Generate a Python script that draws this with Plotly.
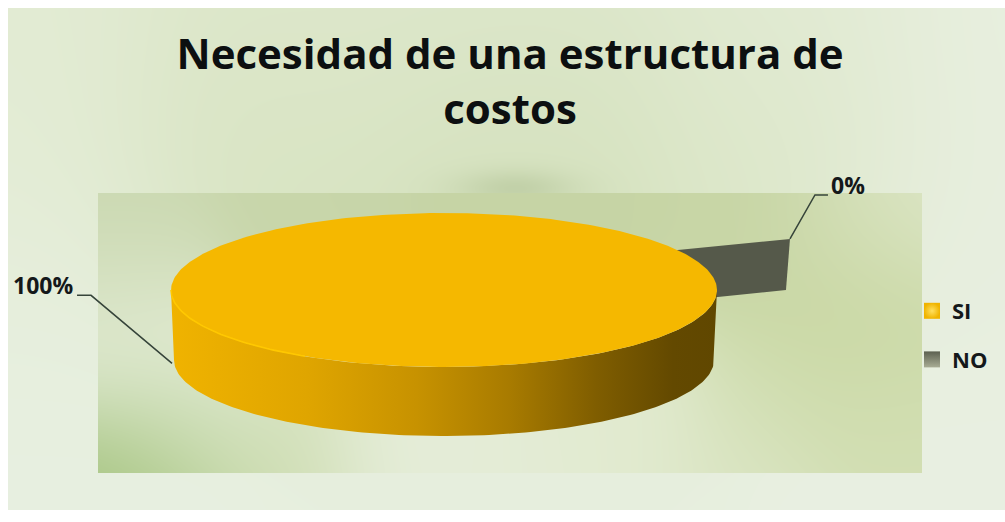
import base64, struct, zlib
import numpy as np
import plotly.graph_objects as go

# ---- data ----
categories = ["SI", "NO"]
values = [100, 0]
title_text = "Necesidad de una estructura de<br>costos"

# ---- colours / geometry ----
W, H = 1005, 522
SI_TOP = "#f5b800"
NO_COL = "#55594a"
LEAD = "#36443a"
TXT = "#14181a"
FONT = "Open Sans"
CX, CY, RX, RY = 444, 290, 273, 77
BCX, BCY, BRX, BRY = 444, 360, 270, 76
NO_ANGLE = np.radians(27.6)
NO_REACH = 1.43


def blend(points, xx, yy, sigma):
    w = []
    c = []
    for px, py, col in points:
        w.append(np.exp(-((xx - px) ** 2 + (yy - py) ** 2) / (2 * sigma ** 2)) + 1e-9)
        c.append(col)
    w = np.stack(w, -1)
    c = np.array(c, dtype=float)
    return (w[..., None] * c).sum(-2) / w.sum(-1, keepdims=True)


def background_png():
    yy, xx = np.mgrid[0:H, 0:W].astype(float)
    frame_pts = [
        (20, 20, (226, 235, 211)), (300, 20, (222, 232, 204)), (520, 20, (222, 232, 205)),
        (800, 20, (226, 235, 212)), (990, 30, (233, 240, 224)),
        (20, 150, (228, 237, 214)), (250, 150, (216, 228, 194)), (520, 150, (212, 225, 188)),
        (780, 150, (220, 231, 200)), (990, 170, (232, 239, 223)),
        (30, 320, (231, 239, 222)), (975, 320, (232, 239, 224)),
        (30, 495, (232, 240, 225)), (500, 495, (231, 239, 222)), (980, 495, (233, 240, 226)),
    ]
    panel_pts = [
        (110, 205, (202, 216, 176)), (300, 200, (200, 214, 170)), (520, 197, (198, 212, 165)),
        (750, 200, (200, 214, 166)), (870, 205, (208, 220, 178)), (918, 205, (226, 235, 208)),
        (110, 290, (214, 226, 194)), (850, 300, (201, 215, 162)), (915, 320, (205, 219, 170)),
        (115, 370, (230, 238, 218)), (200, 410, (230, 238, 218)), (400, 450, (230, 238, 218)),
        (620, 445, (226, 235, 208)), (800, 400, (206, 220, 172)), (910, 420, (208, 221, 175)),
        (105, 470, (158, 191, 118)), (170, 470, (174, 202, 138)), (280, 470, (208, 222, 180)),
        (500, 470, (228, 236, 214)), (750, 470, (220, 230, 198)), (915, 470, (212, 224, 182)),
    ]
    img = blend(frame_pts, xx, yy, 100)
    # soft shadow just above the plot panel
    shade = np.exp(-((xx - 515) ** 2) / (2 * 42 ** 2) - ((yy - 188) ** 2) / (2 * 13 ** 2))[..., None]
    img = img * (1 - shade * 0.55) + np.array([178, 195, 150.0]) * shade * 0.55
    panel = blend(panel_pts, xx, yy, 60)
    mask = (xx >= 98) & (xx < 922) & (yy >= 193) & (yy < 473)
    img[mask] = panel[mask]
    outside = (xx < 8) | (yy < 8) | (yy >= 510)
    img[outside] = 255
    arr = np.clip(img, 0, 255).astype(np.uint8)
    raw = b"".join(b"\x00" + arr[r].tobytes() for r in range(H))

    def chunk(tag, d):
        return struct.pack(">I", len(d)) + tag + d + struct.pack(">I", zlib.crc32(tag + d))

    png = (b"\x89PNG\r\n\x1a\n" + chunk(b"IHDR", struct.pack(">IIBBBBB", W, H, 8, 2, 0, 0, 0))
           + chunk(b"IDAT", zlib.compress(raw, 6)) + chunk(b"IEND", b""))
    return "data:image/png;base64," + base64.b64encode(png).decode()


def rim(t, cx=CX, cy=CY, rx=RX, ry=RY):
    return cx + rx * np.cos(t), cy - ry * np.sin(t)


total = sum(values)
fractions = [v / total for v in values]
si_sweep = 2 * np.pi * fractions[0]

fig = go.Figure()

# NO slice: a zero-angle slice, only its radial wall is seen
tip_x, tip_y = rim(NO_ANGLE, rx=RX * NO_REACH, ry=RY * NO_REACH)
fig.add_trace(go.Scatter(
    x=[CX, tip_x, tip_x - 4, CX], y=[CY - 17, tip_y, tip_y + 51, CY + 35],
    mode="lines", fill="toself", fillcolor=NO_COL, line=dict(color=NO_COL, width=0),
    showlegend=False, hoverinfo="skip"))

# SI slice: side wall then top
ts = np.linspace(np.pi, 2 * np.pi, 160)
tx, ty = rim(ts)
bx, by = rim(ts, BCX, BCY, BRX, BRY)
fig.add_trace(go.Scatter(
    x=np.r_[tx, bx[::-1]], y=np.r_[ty, by[::-1]],
    mode="lines", fill="toself", line=dict(width=0, color="#a87c00"),
    fillgradient=dict(type="horizontal", colorscale=[
        [0.0, "#f0b300"], [0.25, "#dfa500"], [0.45, "#c79200"], [0.62, "#a87b00"],
        [0.78, "#7f5d00"], [0.92, "#634900"], [1.0, "#604700"]]),
    showlegend=False, hoverinfo="skip"))
t_top = np.linspace(0, si_sweep, 361)
ex, ey = rim(t_top)
fig.add_trace(go.Scatter(
    x=ex, y=ey, mode="lines", fill="toself", fillcolor=SI_TOP,
    line=dict(color=SI_TOP, width=0), showlegend=False, hoverinfo="skip"))
# lighter rim on the lit side
t_edge = np.linspace(np.pi, 1.33 * np.pi, 60)
hx, hy = rim(t_edge)
fig.add_trace(go.Scatter(x=hx, y=hy, mode="lines", line=dict(color="#ffc800", width=1.6),
                         showlegend=False, hoverinfo="skip"))

# leader lines
anchor_si = rim(np.radians(181), BCX - 2, BCY + 2, BRX, BRY)
fig.add_trace(go.Scatter(
    x=[anchor_si[0], anchor_si[0] - 81, anchor_si[0] - 95], y=[anchor_si[1], anchor_si[1] - 68, anchor_si[1] - 68],
    mode="lines", line=dict(color=LEAD, width=1.5), showlegend=False, hoverinfo="skip"))
fig.add_trace(go.Scatter(
    x=[tip_x, tip_x + 25, tip_x + 38], y=[tip_y, tip_y - 44, tip_y - 44],
    mode="lines", line=dict(color=LEAD, width=1.5), showlegend=False, hoverinfo="skip"))

# legend entries
legend_cols = ["#f0b400", "#5c6050"]
legend_glow = ["#ffe060", "#a8ac94"]
legend_kind = ["radial", "vertical"]
for name, col, glow, kind in zip(categories, legend_cols, legend_glow, legend_kind):
    fig.add_trace(go.Scatter(
        x=[None], y=[None], mode="markers", name=f"<b>{name}</b>", legendgroup=name,
        marker=dict(symbol="square", size=17, color=col,
                    gradient=dict(type=kind, color=glow))))

fig.add_annotation(x=75, y=285, xanchor="right", yanchor="middle", showarrow=False,
                   text=f"<b>{values[0]}%</b>", font=dict(family=FONT, size=23, color=TXT))
fig.add_annotation(x=829, y=185, xanchor="left", yanchor="middle", showarrow=False,
                   text=f"<b>{values[1]}%</b>", font=dict(family=FONT, size=23, color=TXT))

fig.add_layout_image(dict(source=background_png(), xref="x", yref="y", x=0, y=0, sizex=W, sizey=H,
                          sizing="stretch", xanchor="left", yanchor="top", layer="below"))

fig.update_layout(
    width=W, height=H, margin=dict(l=0, r=0, t=0, b=0), paper_bgcolor="white", plot_bgcolor="rgba(0,0,0,0)",
    title=dict(text=f"<b>{title_text}</b>", x=0.5075, xanchor="center", y=0.868, yanchor="top",
               font=dict(family=FONT, size=42, color="#0c0f10")),
    xaxis=dict(range=[0, W], visible=False, fixedrange=True),
    yaxis=dict(range=[H, 0], visible=False, fixedrange=True),
    legend=dict(x=912 / W, y=1 - 290 / H, xanchor="left", yanchor="top", xref="paper", yref="paper",
                font=dict(family=FONT, size=22, color=TXT), bgcolor="rgba(0,0,0,0)", tracegroupgap=17),
    showlegend=True,
)
fig.write_html("out.html", config=dict(displayModeBar=False),
               post_script="document.body.style.margin='0';document.body.style.overflow='hidden';")
